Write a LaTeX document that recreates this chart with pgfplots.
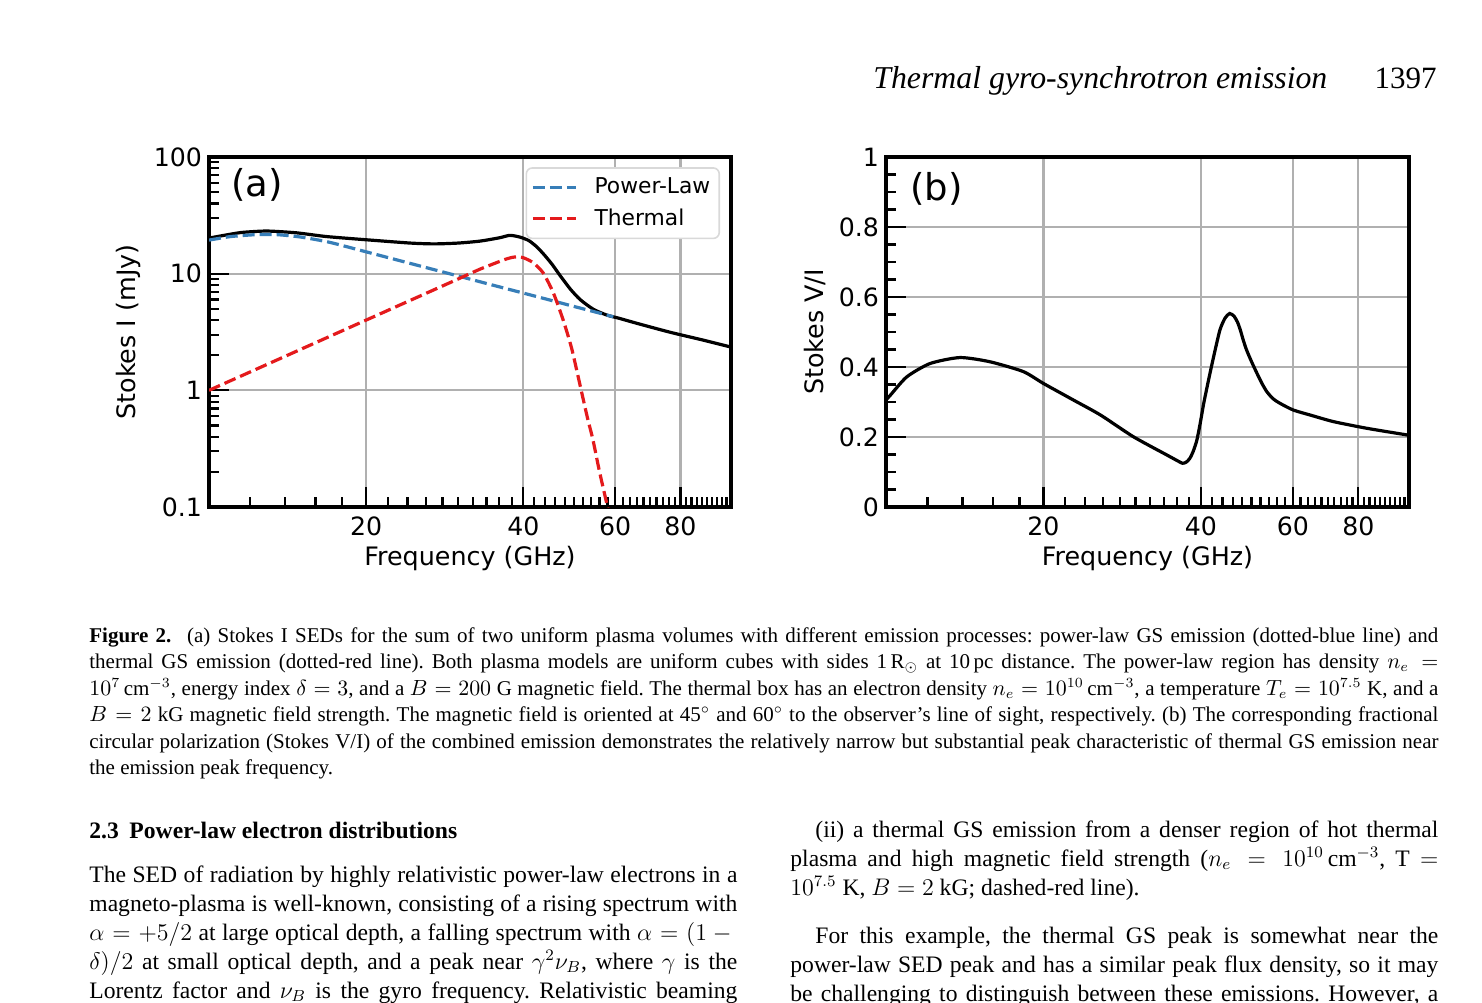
\documentclass[border=0pt]{standalone}
\usepackage{pgfplots}
\pgfplotsset{compat=1.18}
\usepackage{fontspec}
\setmainfont{Liberation Serif}
\newfontfamily\dejavu{DejaVu Sans}
\frenchspacing

\definecolor{plblue}{HTML}{377EB8}
\definecolor{plred}{HTML}{E41A1C}

\pgfplotsset{legend image code/.code={\draw[#1] (0pt,0pt) -- (21.5pt,0pt);}}

\newcommand\capline[2]{\node[anchor=base west, inner sep=0pt, font=\fontsize{10.5}{13}\selectfont] at (44.5pt,#1) {\makebox[674.5pt][s]{#2}};}
\newcommand\bodyline[3]{\node[anchor=base west, inner sep=0pt, font=\fontsize{11.8}{14.5}\selectfont] at (#1,#2) {\makebox[324pt][s]{#3}};}
\newcommand\bodylast[3]{\node[anchor=base west, inner sep=0pt, font=\fontsize{11.8}{14.5}\selectfont] at (#1,#2) {#3};}

\begin{document}
\begin{tikzpicture}
\useasboundingbox (0pt,0pt) rectangle (741pt,-501pt);

% running head
\node[anchor=base west, inner sep=0pt, font=\fontsize{15.9}{18}\selectfont\itshape] at (436.5pt,-44pt) {Thermal gyro-synchrotron emission};
\node[anchor=base east, inner sep=0pt, font=\fontsize{15.5}{18}\selectfont] at (718.5pt,-44pt) {1397};

% (a) Stokes I
\begin{axis}[at={(104.5pt,-253.5pt)}, anchor=south west,
  scale only axis, width=261pt, height=175pt,
  xmode=log, xmin=10, xmax=100,
  ymode=log, ymin=0.1, ymax=100,
  axis line style={line width=2.4pt},
  tick align=inside, tick pos=left,
  major tick length=10pt, minor tick length=5pt,
  tick style={black, line width=1.1pt},
  xtick={20,40,60,80}, xticklabels={20,40,60,80},
  minor xtick={12,14,16,18,22,24,26,28,30,32,34,36,38,42,44,46,48,50,52,54,56,58,
               62,64,66,68,70,72,74,76,78,82,84,86,88,90,92,94,96,98},
  ytick={0.1,1,10,100}, yticklabels={0.1,1,10,100},
  minor ytick={0.2,0.3,0.4,0.5,0.6,0.7,0.8,0.9,2,3,4,5,6,7,8,9,20,30,40,50,60,70,80,90},
  xmajorgrids, ymajorgrids, major grid style={black!31, line width=1.1pt},
  ticklabel style={font=\dejavu\fontsize{12.6}{14}\selectfont},
  xticklabel style={yshift=-1.5pt},
  xlabel={Frequency (GHz)}, ylabel={Stokes I (mJy)},
  xlabel style={font=\dejavu\fontsize{12.7}{15}\selectfont, at={(axis description cs:0.5,-0.148)}, anchor=center},
  ylabel style={font=\dejavu\fontsize{12.7}{15}\selectfont, at={(axis description cs:-0.155,0.5)}, anchor=center},
  legend style={at={(0.979,0.971)}, anchor=north east, draw=black!15, line width=0.8pt,
    rounded corners=3pt, font=\dejavu\fontsize{10.9}{12}\selectfont,
    inner xsep=2.5pt, inner ysep=3pt, row sep=2pt,
    /tikz/every odd column/.append style={column sep=6.5pt}},
  legend cell align=left,
]
\addplot[black, line width=1.6pt, forget plot, smooth, tension=0.4] coordinates {
 (10,20.2) (11,21.8) (11.6,22.6) (12.9,23.2) (14.7,22.4) (16.8,20.8) (20.1,19.5)
 (24.3,18.3) (27,18.0) (30,18.3) (33,19.0) (36,20.3) (37.7,21.3) (39.4,20.6)
 (41.0,19.2) (42.5,16.9) (44.0,14.3) (45.5,11.9) (47.0,9.7) (49.2,7.4) (51.4,6.0)
 (54.5,4.95) (57.8,4.42) (61,4.15) (66.1,3.75) (76.4,3.15) (88.3,2.7) (100,2.35)};
\addplot[plblue, line width=1.6pt, dash pattern=on 6pt off 2.5pt, smooth, tension=0.4] coordinates {
 (10,19.4) (11,20.8) (12.3,21.6) (13.5,21.6) (15,20.6) (17,18.6) (20.1,15.3)
 (25,11.84) (30,9.56) (35,7.97) (40,6.82) (45,5.94) (50,5.24) (55,4.69) (59.5,4.27)};
\addlegendentry{Power-Law}
\addplot[plred, line width=1.6pt, dash pattern=on 6pt off 2.5pt, smooth, tension=0.4] coordinates {
 (10,1.0) (15,2.25) (20,4.0) (25,6.25) (30,9.0) (33,10.9) (35,12.1) (37,13.3)
 (38.5,13.9) (40,13.7) (41.8,12.4) (43.7,10.1) (45.7,6.8) (47.7,4.0) (49.5,2.3)
 (51.4,1.1) (53,0.6) (54.4,0.375) (56,0.2) (57.9,0.104) (58.2,0.095)};
\addlegendentry{Thermal}
\node[anchor=base west, inner sep=0pt, font=\dejavu\fontsize{18.5}{20}\selectfont]
  at (rel axis cs:0.042,0.886) {(a)};
\end{axis}

% (b) Stokes V/I
\begin{axis}[at={(443pt,-253.5pt)}, anchor=south west,
  scale only axis, width=261.5pt, height=175pt,
  xmode=log, xmin=10, xmax=100,
  ymin=0, ymax=1,
  axis line style={line width=2.4pt},
  tick align=inside, tick pos=left,
  major tick length=10pt, minor tick length=5pt,
  tick style={black, line width=1.1pt},
  xtick={20,40,60,80}, xticklabels={20,40,60,80},
  minor xtick={12,14,16,18,22,24,26,28,30,32,34,36,38,42,44,46,48,50,52,54,56,58,
               62,64,66,68,70,72,74,76,78,82,84,86,88,90,92,94,96,98},
  ytick={0,0.2,0.4,0.6,0.8,1}, yticklabels={0,0.2,0.4,0.6,0.8,1},
  minor ytick={0.05,0.1,0.15,0.25,0.3,0.35,0.45,0.5,0.55,0.65,0.7,0.75,0.85,0.9,0.95},
  xmajorgrids, ymajorgrids, major grid style={black!31, line width=1.1pt},
  ticklabel style={font=\dejavu\fontsize{12.6}{14}\selectfont},
  xticklabel style={yshift=-1.5pt},
  xlabel={Frequency (GHz)}, ylabel={Stokes V/I},
  xlabel style={font=\dejavu\fontsize{12.7}{15}\selectfont, at={(axis description cs:0.5,-0.148)}, anchor=center},
  ylabel style={font=\dejavu\fontsize{12.7}{15}\selectfont, at={(axis description cs:-0.136,0.5)}, anchor=center},
]
\addplot[black, line width=1.6pt, smooth, tension=0.4] coordinates {
 (10,0.306) (10.2,0.32) (10.96,0.372) (12.14,0.41) (13.85,0.427) (15.8,0.415)
 (18.3,0.387) (20.0,0.353) (22.8,0.306) (25.7,0.263) (29.7,0.201) (34.4,0.149)
 (36.2,0.131) (36.9,0.125) (37.5,0.128) (38.1,0.139) (38.7,0.16) (39.3,0.191)
 (39.9,0.24) (40.5,0.296) (41.4,0.365) (42.3,0.429) (43.5,0.506) (44.5,0.540)
 (45.4,0.553) (46.3,0.545) (47.0,0.528) (47.6,0.505) (48.2,0.477) (48.9,0.449)
 (50.0,0.415) (51.2,0.382) (52.3,0.354) (53.5,0.329) (55,0.309) (56.7,0.296)
 (60.1,0.277) (65,0.262) (71.7,0.244) (83.0,0.225) (100,0.205)};
\node[anchor=base west, inner sep=0pt, font=\dejavu\fontsize{18.5}{20}\selectfont]
  at (rel axis cs:0.046,0.877) {(b)};
\end{axis}

% caption
\capline{-321pt}{\textbf{Figure 2.}\hspace{0.4em} (a) Stokes I SEDs for the sum of two uniform plasma volumes with different emission processes: power-law GS emission (dotted-blue line) and}
\capline{-334.25pt}{thermal GS emission (dotted-red line). Both plasma models are uniform cubes with sides 1\,R$_\odot$ at 10\,pc distance. The power-law region has density $n_e =$}
\capline{-347.5pt}{$10^7$\,cm$^{-3}$, energy index $\delta = 3$, and a $B = 200$ G magnetic field. The thermal box has an electron density $n_e = 10^{10}$\,cm$^{-3}$, a temperature $T_e = 10^{7.5}$ K, and a}
\capline{-360.75pt}{$B = 2$ kG magnetic field strength. The magnetic field is oriented at 45$^\circ$ and 60$^\circ$ to the observer's line of sight, respectively. (b) The corresponding fractional}
\capline{-374pt}{circular polarization (Stokes V/I) of the combined emission demonstrates the relatively narrow but substantial peak characteristic of thermal GS emission near}
\node[anchor=base west, inner sep=0pt, font=\fontsize{10.5}{13}\selectfont] at (44.5pt,-387.25pt) {the emission peak frequency.};

% left column
\node[anchor=base west, inner sep=0pt, font=\fontsize{11.8}{14.5}\selectfont\bfseries] at (44.5pt,-419pt) {2.3\hspace{0.45em}Power-law electron distributions};
\bodyline{44.5pt}{-441pt}{The SED of radiation by highly relativistic power-law electrons in a}
\bodyline{44.5pt}{-455.5pt}{magneto-plasma is well-known, consisting of a rising spectrum with}
\bodyline{44.5pt}{-470pt}{$\alpha = +5/2$ at large optical depth, a falling spectrum with $\alpha = (1 -{}$}
\bodyline{44.5pt}{-484.5pt}{$\delta)/2$ at small optical depth, and a peak near $\gamma^2\nu_B$, where $\gamma$ is the}
\bodyline{44.5pt}{-499pt}{Lorentz factor and $\nu_B$ is the gyro frequency. Relativistic beaming}

% right column
\bodyline{395pt}{-418.5pt}{\hspace*{12.5pt}(ii) a thermal GS emission from a denser region of hot thermal}
\bodyline{395pt}{-433pt}{plasma and high magnetic field strength ($n_e = 10^{10}$\,cm$^{-3}$, T $=$}
\bodylast{395pt}{-447.5pt}{$10^{7.5}$ K, $B = 2$ kG; dashed-red line).}
\bodyline{395pt}{-471.5pt}{\hspace*{12.5pt}For this example, the thermal GS peak is somewhat near the}
\bodyline{395pt}{-486pt}{power-law SED peak and has a similar peak flux density, so it may}
\bodyline{395pt}{-500.5pt}{be challenging to distinguish between these emissions. However, a}
\end{tikzpicture}
\end{document}
